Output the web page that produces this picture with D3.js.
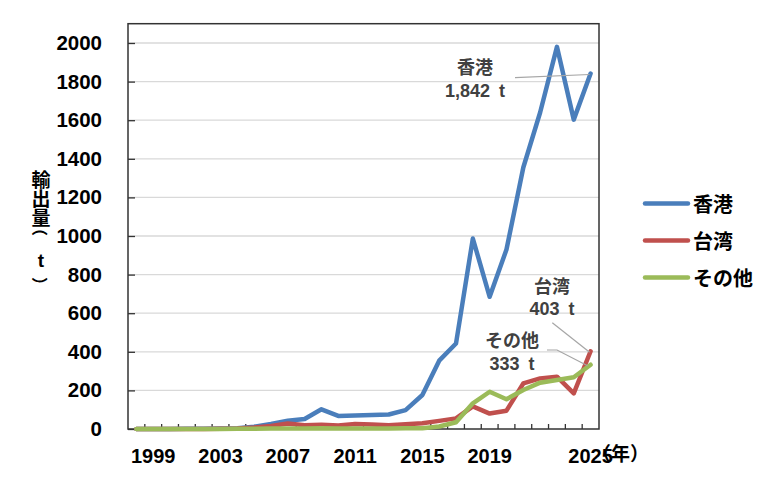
<!DOCTYPE html>
<html>
<head>
<meta charset="utf-8">
<script src="https://cdn.jsdelivr.net/npm/d3@7"></script>
<style>
  html, body { margin: 0; padding: 0; background: #fff; }
  svg text { font-family: "Liberation Sans", Arial, "Noto Sans CJK JP", sans-serif; font-weight: bold; }
  svg text.jp { font-family: "Noto Sans CJK JP", "Liberation Sans", sans-serif; }
</style>
</head>
<body>
<div id="chart"></div>
<script>
// categories (years) and series values (t)
var years = [1998, 1999, 2000, 2001, 2002, 2003, 2004, 2005, 2006, 2007,
             2008, 2009, 2010, 2011, 2012, 2013, 2014, 2015, 2016, 2017,
             2018, 2019, 2020, 2021, 2022, 2023, 2024, 2025];

var hongkong = [0, 0, 0, 1, 1, 2, 4, 12, 26, 43,
                52, 102, 68, 70, 72, 75, 98, 176, 354, 443,
                987, 685, 930, 1355, 1640, 1980, 1603, 1842];

var taiwan = [0, 0, 0, 0, 0, 1, 3, 8, 16, 28,
              20, 22, 18, 26, 23, 20, 25, 30, 42, 55,
              117, 80, 95, 236, 262, 271, 185, 403];

var others = [0, 0, 0, 0, 0, 0, 1, 1, 2, 3,
              3, 4, 3, 3, 3, 3, 4, 4, 13, 35,
              133, 193, 154, 202, 240, 254, 268, 333];

var seriesNames = ["香港", "台湾", "その他"];
var seriesColors = ["#4a7ebb", "#c0504d", "#9bbb59"];

var yTicks = [0, 200, 400, 600, 800, 1000, 1200, 1400, 1600, 1800, 2000];
var xLabels = [1999, 2003, 2007, 2011, 2015, 2019, 2025];

// end labels
var endNotes = [
  { name: "香港", value: "1,842\u2002t" },
  { name: "台湾", value: "403\u2002t" },
  { name: "その他", value: "333\u2002t" }
];

var W = 778, H = 481;
var plotL = 128, plotR = 599, plotT = 23.7, plotB = 429;

var svg = d3.select("#chart").append("svg")
  .attr("width", W)
  .attr("height", H);

var x = d3.scaleBand().domain(years).range([plotL, plotR]).paddingInner(0).paddingOuter(0);
var y = d3.scaleLinear().domain([0, 2100]).range([plotB, plotT]);
var cx = function(yr){ return x(yr) + x.bandwidth() / 2; };

//gridlines
svg.append("g").selectAll("line")
  .data(yTicks.slice(1))
  .enter().append("line")
  .attr("x1", plotL).attr("x2", plotR)
  .attr("y1", function(d){ return y(d); })
  .attr("y2", function(d){ return y(d); })
  .attr("stroke", "#d9d9d9")
  .attr("stroke-width", 1.3);

// y axis ticks (inside) and labels
var yAxis = d3.axisLeft(y)
  .tickValues(yTicks)
  .tickFormat(d3.format("d"))
  .tickSizeInner(-7).tickSizeOuter(0).tickPadding(26);
var gy = svg.append("g").attr("transform", "translate(" + plotL + ",0)").call(yAxis);
gy.select(".domain").remove();
gy.selectAll(".tick line").attr("stroke", "#333").attr("stroke-width", 1.3);
gy.selectAll(".tick text")
  .attr("font-size", 20.5)
  .attr("fill", "#000")
  .style("font-family", "'Liberation Sans', Arial, sans-serif")
  .style("font-weight", "bold");

// x axis ticks at category boundaries (inside)
svg.append("g").selectAll("line")
  .data(years.slice(1))
  .enter().append("line")
  .attr("x1", function(d){ return x(d); })
  .attr("x2", function(d){ return x(d); })
  .attr("y1", plotB).attr("y2", plotB - 5)
  .attr("stroke", "#333")
  .attr("stroke-width", 1.3);

svg.append("g").selectAll("text")
  .data(xLabels)
  .enter().append("text")
  .attr("x", function(d){ return cx(d); })
  .attr("y", 462.5)
  .attr("text-anchor", "middle")
  .attr("font-size", 20)
  .attr("fill", "#000")
  .text(function(d){ return d; });

svg.append("text")
  .attr("class", "jp")
  .attr("x", 592)
  .attr("y", 461)
  .attr("font-size", 19)
  .attr("fill", "#000")
  .text("（年）");

// frame
svg.append("rect")
  .attr("x", plotL).attr("y", plotT)
  .attr("width", plotR - plotL).attr("height", plotB - plotT)
  .attr("fill", "none")
  .attr("stroke", "#333")
  .attr("stroke-width", 1.5);

// y axis title, stacked vertically (brackets turned sideways)
var titleChars = [
  { c: "輸", y: 178, r: 0, s: 19 }, { c: "出", y: 197, r: 0, s: 19 }, { c: "量", y: 216, r: 0, s: 19 },
  { c: "（", y: 228, r: 90, s: 16 }, { c: "t", y: 260, r: 0, s: 19 }, { c: "）", y: 285, r: 90, s: 16 }
];
svg.append("g").selectAll("text")
  .data(titleChars)
  .enter().append("text")
  .attr("class", function(d){ return d.c === "t" ? null : "jp"; })
  .attr("transform", function(d){ return "translate(41," + d.y + ") rotate(" + d.r + ")"; })
  .attr("text-anchor", "middle")
  .attr("dominant-baseline", "central")
  .attr("font-size", function(d){ return d.s; })
  .attr("fill", "#000")
  .text(function(d){ return d.c; });

// series lines
var line = d3.line()
  .x(function(d, i){ return cx(years[i]); })
  .y(function(d){ return y(d); });

var allSeries = [hongkong, taiwan, others];
svg.append("g").selectAll("path")
  .data(allSeries)
  .enter().append("path")
  .attr("d", line)
  .attr("fill", "none")
  .attr("stroke", function(d, i){ return seriesColors[i]; })
  .attr("stroke-width", 4.5)
  .attr("stroke-linejoin", "round")
  .attr("stroke-linecap", "round");

// end-value callouts
var last = years.length - 1;
var noteLayout = [
  { tx: 475, ny: 74, vy: 97, lead: [[515, 77.7], [cx(years[last]) - 1, y(hongkong[last]) + 1]] },
  { tx: 552, ny: 292.5, vy: 314.5, lead: [[552.3, 322.7], [cx(years[last]) - 1, y(taiwan[last]) + 1]] },
  { tx: 512, ny: 347, vy: 370, lead: [[547, 350], [557, 350], [cx(years[last]) - 3, y(others[last]) + 1]] }
];
noteLayout.forEach(function(n, i){
  svg.append("path")
    .attr("d", d3.line()(n.lead))
    .attr("fill", "none")
    .attr("stroke", "#a6a6a6")
    .attr("stroke-width", 1.2);
  svg.append("text")
    .attr("class", "jp")
    .attr("x", n.tx).attr("y", n.ny)
    .attr("text-anchor", "middle")
    .attr("font-size", 18)
    .attr("fill", "#404040")
    .text(endNotes[i].name);
  svg.append("text")
    .attr("x", n.tx).attr("y", n.vy)
    .attr("text-anchor", "middle")
    .attr("font-size", 18)
    .attr("fill", "#404040")
    .text(endNotes[i].value);
});

// legend
var legend = svg.append("g").selectAll("g")
  .data(seriesNames)
  .enter().append("g")
  .attr("transform", function(d, i){ return "translate(645," + (203.5 + i * 37) + ")"; });
legend.append("line")
  .attr("x1", 0).attr("x2", 43)
  .attr("stroke", function(d, i){ return seriesColors[i]; })
  .attr("stroke-width", 4.5)
  .attr("stroke-linecap", "round");
legend.append("text")
  .attr("class", "jp")
  .attr("x", 48)
  .attr("y", 0)
  .attr("dominant-baseline", "central")
  .attr("font-size", 20)
  .attr("fill", "#000")
  .text(function(d){ return d; });
</script>
</body>
</html>
